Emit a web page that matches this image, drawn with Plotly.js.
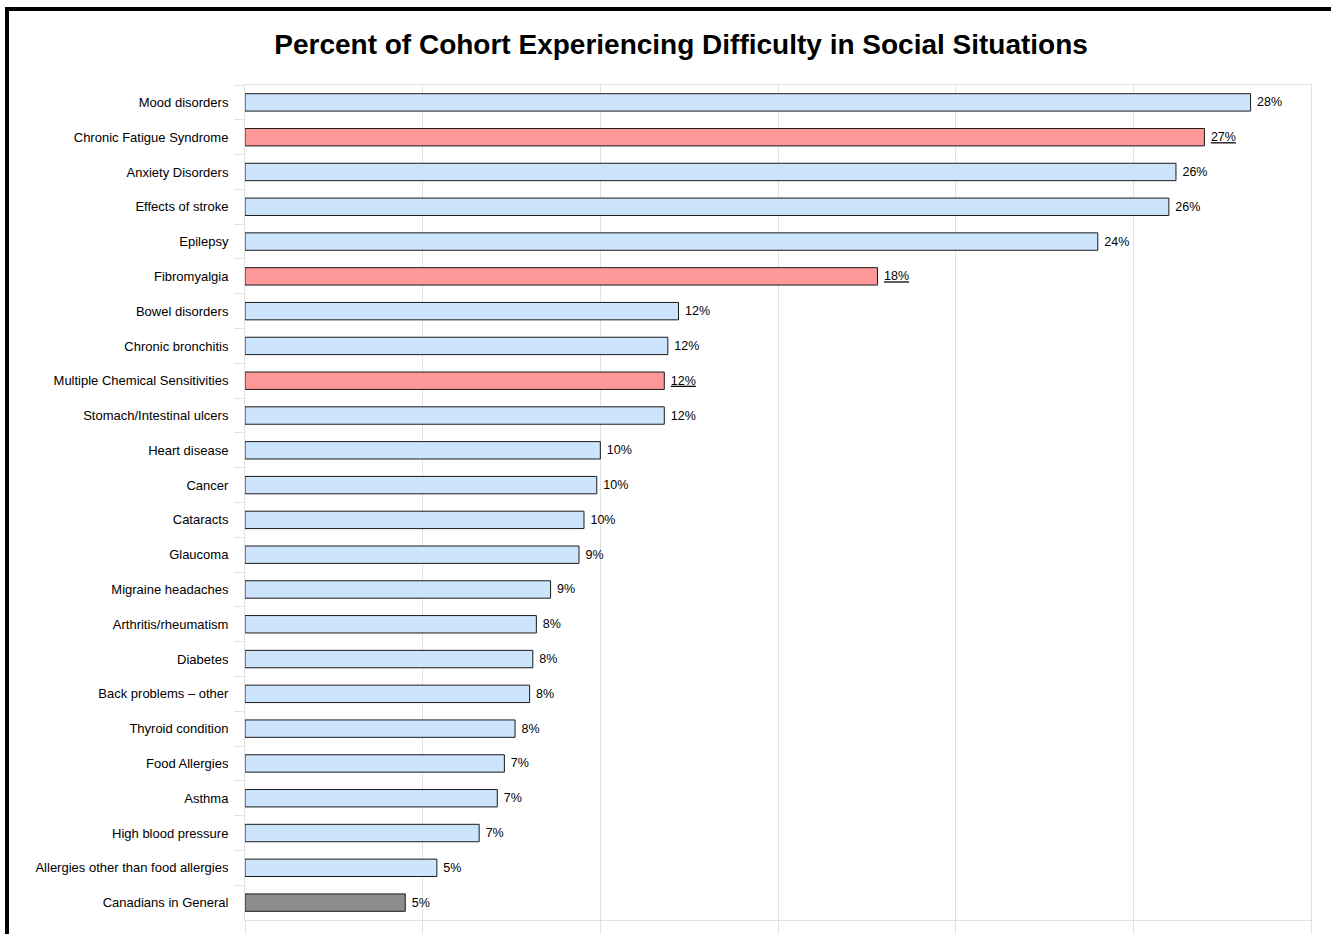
<!DOCTYPE html>
<html>
<head>
<meta charset="utf-8">
<script src="https://cdn.plot.ly/plotly-3.0.1.min.js"></script>
<style>
  html, body { margin: 0; padding: 0; background: #ffffff; overflow: hidden; }
  #wrap { position: relative; width: 1331px; height: 934px; }
  #chart { position: absolute; left: 0; top: 0; width: 1331px; height: 934px; }
  #frame { position: absolute; left: 5px; top: 7px; width: 1400px; height: 1000px;
           border-left: 4px solid #000; border-top: 4px solid #000; pointer-events: none; }
</style>
</head>
<body>
<div id="wrap">
  <div id="chart"></div>
  <div id="frame"></div>
</div>
<script>
const categories = [
  "Mood disorders",
  "Chronic Fatigue Syndrome",
  "Anxiety Disorders",
  "Effects of stroke",
  "Epilepsy",
  "Fibromyalgia",
  "Bowel disorders",
  "Chronic bronchitis",
  "Multiple Chemical Sensitivities",
  "Stomach/Intestinal ulcers",
  "Heart disease",
  "Cancer",
  "Cataracts",
  "Glaucoma",
  "Migraine headaches",
  "Arthritis/rheumatism",
  "Diabetes",
  "Back problems \u2013 other",
  "Thyroid condition",
  "Food Allergies",
  "Asthma",
  "High blood pressure",
  "Allergies other than food allergies",
  "Canadians in General"
];

const percentValues = [
  28.3, 27.0, 26.2, 26.0, 24.0, 17.8, 12.2, 11.9, 11.8, 11.8,
  10.0, 9.9, 9.54, 9.4, 8.6, 8.2, 8.1, 8.01, 7.6, 7.3, 7.1, 6.59, 5.4, 4.51
];

const highlighted = ["Chronic Fatigue Syndrome", "Fibromyalgia", "Multiple Chemical Sensitivities"];
const baseline = ["Canadians in General"];

const xTicks = [0, 5, 10, 15, 20, 25, 30];

const COLOR_NORMAL = "#cce4fc";
const COLOR_HIGHLIGHT = "#ff9999";
const COLOR_BASELINE = "#8c8c8c";

const barColors = categories.map(c =>
  highlighted.includes(c) ? COLOR_HIGHLIGHT : (baseline.includes(c) ? COLOR_BASELINE : COLOR_NORMAL));
const barText = categories.map((c, i) => {
  const t = Math.round(percentValues[i]) + "%";
  return "\u00a0" + (highlighted.includes(c) ? "<u>" + t + "</u>" : t);
});

const FONT = "'Liberation Sans', Arial, sans-serif";

const trace = {
  type: "bar",
  orientation: "h",
  y: categories,
  x: percentValues,
  text: barText,
  textposition: "outside",
  texttemplate: "%{text}",
  cliponaxis: false,
  textfont: { family: FONT, size: 12.5, color: "#000000" },
  marker: { color: barColors, line: { color: "#1a1a1a", width: 1 } },
  hoverinfo: "y+x"
};

const layout = {
  width: 1331,
  height: 934,
  margin: { l: 245, r: 20, t: 85, b: 14, pad: 0 },
  paper_bgcolor: "#ffffff",
  plot_bgcolor: "#ffffff",
  bargap: 0.5,
  showlegend: false,
  font: { family: FONT, size: 13, color: "#000000" },
  title: {
    text: "<b>Percent of Cohort Experiencing Difficulty in Social Situations</b>",
    font: { family: FONT, size: 28, color: "#000000" },
    x: 0.5117, xanchor: "center",
    y: 0.953, yanchor: "middle"
  },
  xaxis: {
    range: [0, 30],
    tickvals: xTicks,
    showticklabels: false,
    showgrid: true,
    gridcolor: "#e2e2e2",
    gridwidth: 1,
    zeroline: false,
    showline: true,
    linecolor: "#e2e2e2",
    linewidth: 1,
    mirror: true,
    ticks: "outside",
    ticklen: 14,
    tickcolor: "#e2e2e2",
    tickwidth: 1
  },
  yaxis: {
    autorange: "reversed",
    type: "category",
    showgrid: false,
    zeroline: false,
    showline: true,
    linecolor: "#e2e2e2",
    linewidth: 1,
    mirror: true,
    ticks: "outside",
    tickson: "boundaries",
    ticklen: 10,
    tickcolor: "#e2e2e2",
    tickwidth: 1,
    ticklabelstandoff: 13,
    tickfont: { family: FONT, size: 13, color: "#000000" }
  }
};

Plotly.newPlot("chart", [trace], layout, { displayModeBar: false, staticPlot: true });
</script>
</body>
</html>
